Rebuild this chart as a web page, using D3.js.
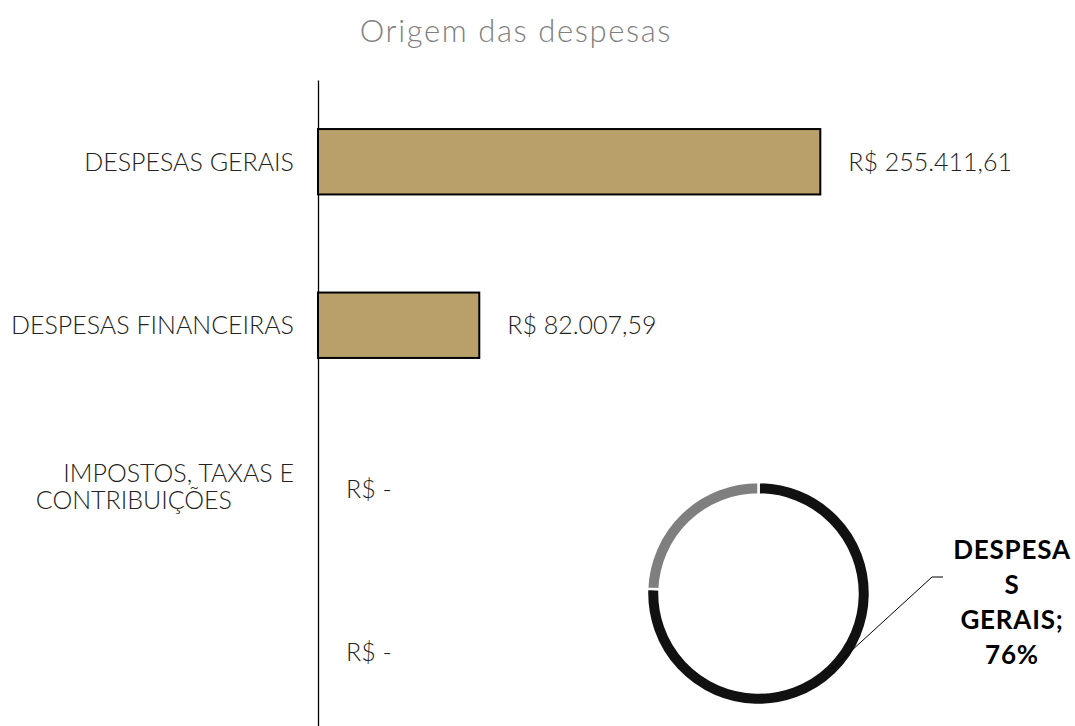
<!DOCTYPE html>
<html>
<head>
<meta charset="utf-8">
<script src="https://cdn.jsdelivr.net/npm/d3@7"></script>
<style>
  body { margin: 0; background: #fff; }
  svg { display: block; }
</style>
</head>
<body>
<div id="chart"></div>
<script>
// chart data
const categories = ["DESPESAS GERAIS", "DESPESAS FINANCEIRAS", "IMPOSTOS, TAXAS E CONTRIBUIÇÕES", ""];
const values = [255411.61, 82007.59, 0, 0];
const pieNames = ["DESPESAS GERAIS", "DESPESAS FINANCEIRAS"];
const pieValues = [255411.61, 82007.59];
const pieColors = ["#111111", "#7f7f7f"];

const width = 1075, height = 726;
const lightFont = "Lato, 'Open Sans', sans-serif";

const ptBR = d3.formatLocale({
    decimal: ",", thousands: ".", grouping: [3], currency: ["R$ ", ""]
});
const money = (v) => v === 0 ? "R$ -" : ptBR.format("$,.2f")(v);

const svg = d3.select("#chart")
    .append("svg")
    .attr("width", width)
    .attr("height", height);

// title
svg.append("text")
    .attr("x", 516)
    .attr("y", 42)
    .attr("text-anchor", "middle")
    .style("font-family", lightFont)
    .style("font-weight", 300)
    .style("font-size", "31px")
    .style("letter-spacing", "1.6px")
    .style("fill", "#7f7f7f")
    .text("Origem das despesas");

// scales
const x = d3.scaleLinear()
    .domain([0, 300000])
    .range([318, 908]);

const y = d3.scaleBand()
    .domain(d3.range(categories.length))
    .range([80, 734])
    .paddingInner(0.6)
    .paddingOuter(0.3);

// vertical axis line only
svg.append("g")
    .attr("transform", "translate(" + x(0) + ",0)")
    .call(d3.axisLeft(y).tickSize(0).tickSizeOuter(0).tickFormat(""))
    .call(g => g.select(".domain").attr("stroke", "#000").attr("stroke-width", 1.3));

// bars
svg.selectAll("rect.bar")
    .data(values)
    .enter()
    .append("rect")
    .attr("class", "bar")
    .attr("x", x(0))
    .attr("y", (d, i) => y(i))
    .attr("width", (d) => x(d) - x(0))
    .attr("height", y.bandwidth())
    .style("fill", "#b9a06a")
    .style("stroke", "#000")
    .style("stroke-width", 2)
    .style("display", (d) => d > 0 ? null : "none");

// value labels
svg.selectAll("text.value")
    .data(values)
    .enter()
    .append("text")
    .attr("class", "value")
    .attr("x", (d) => x(d) + 28)
    .attr("y", (d, i) => y(i) + y.bandwidth() / 2)
    .attr("dy", "0.35em")
    .style("font-family", lightFont)
    .style("font-weight", 300)
    .style("font-size", "25px")
    .style("fill", "#222")
    .text((d) => money(d));

// category labels (third one wraps on two lines)
const catLabel = svg.selectAll("text.cat")
    .data(categories)
    .enter()
    .append("text")
    .attr("class", "cat")
    .attr("text-anchor", "end")
    .attr("y", (d, i) => y(i) + y.bandwidth() / 2)
    .style("font-family", lightFont)
    .style("font-weight", 300)
    .style("font-size", "25px")
    .style("fill", "#222");

catLabel.each(function (d) {
    const t = d3.select(this);
    if (d.startsWith("IMPOSTOS")) {
        t.append("tspan").attr("x", 294).attr("dy", -6.5).text("IMPOSTOS, TAXAS E");
        t.append("tspan").attr("x", 232).attr("dy", 27).text("CONTRIBUIÇÕES");
    } else {
        t.append("tspan").attr("x", 294).attr("dy", "0.35em").text(d);
    }
});

// donut
const cx = 758.5, cy = 593.5;
const pie = d3.pie().sort(null).value((d) => d);
const arc = d3.arc().innerRadius(99).outerRadius(111.5);
const midArc = d3.arc().innerRadius(105).outerRadius(105);

const donut = svg.append("g")
    .attr("transform", "translate(" + cx + "," + cy + ")");

const slices = pie(pieValues);

donut.selectAll("path")
    .data(slices)
    .enter()
    .append("path")
    .attr("d", arc)
    .style("fill", (d, i) => pieColors[i])
    .style("stroke", "#fff")
    .style("stroke-width", 2.5);

// leader line + label for first slice
const total = d3.sum(pieValues);
const first = slices[0];
const p0 = midArc.centroid(first);
const elbow = [173.5, -16.5];
donut.append("polyline")
    .attr("points", [p0, elbow, [elbow[0] + 11, elbow[1]]].map(p => p.join(",")).join(" "))
    .style("fill", "none")
    .style("stroke", "#000")
    .style("stroke-width", 1);

const pct = d3.format(".0%")(pieValues[0] / total);
const labelLines = ["DESPESA", "S", "GERAIS;", pct];
donut.append("text")
    .attr("text-anchor", "middle")
    .style("font-family", "Lato, 'Open Sans', sans-serif")
    .style("font-weight", 700)
    .style("font-size", "26px")
    .style("letter-spacing", "0.8px")
    .style("fill", "#000")
    .selectAll("tspan")
    .data(labelLines)
    .enter()
    .append("tspan")
    .attr("x", 253.5)
    .attr("y", (d, i) => -35 + i * 35)
    .text((d) => d);
</script>
</body>
</html>
